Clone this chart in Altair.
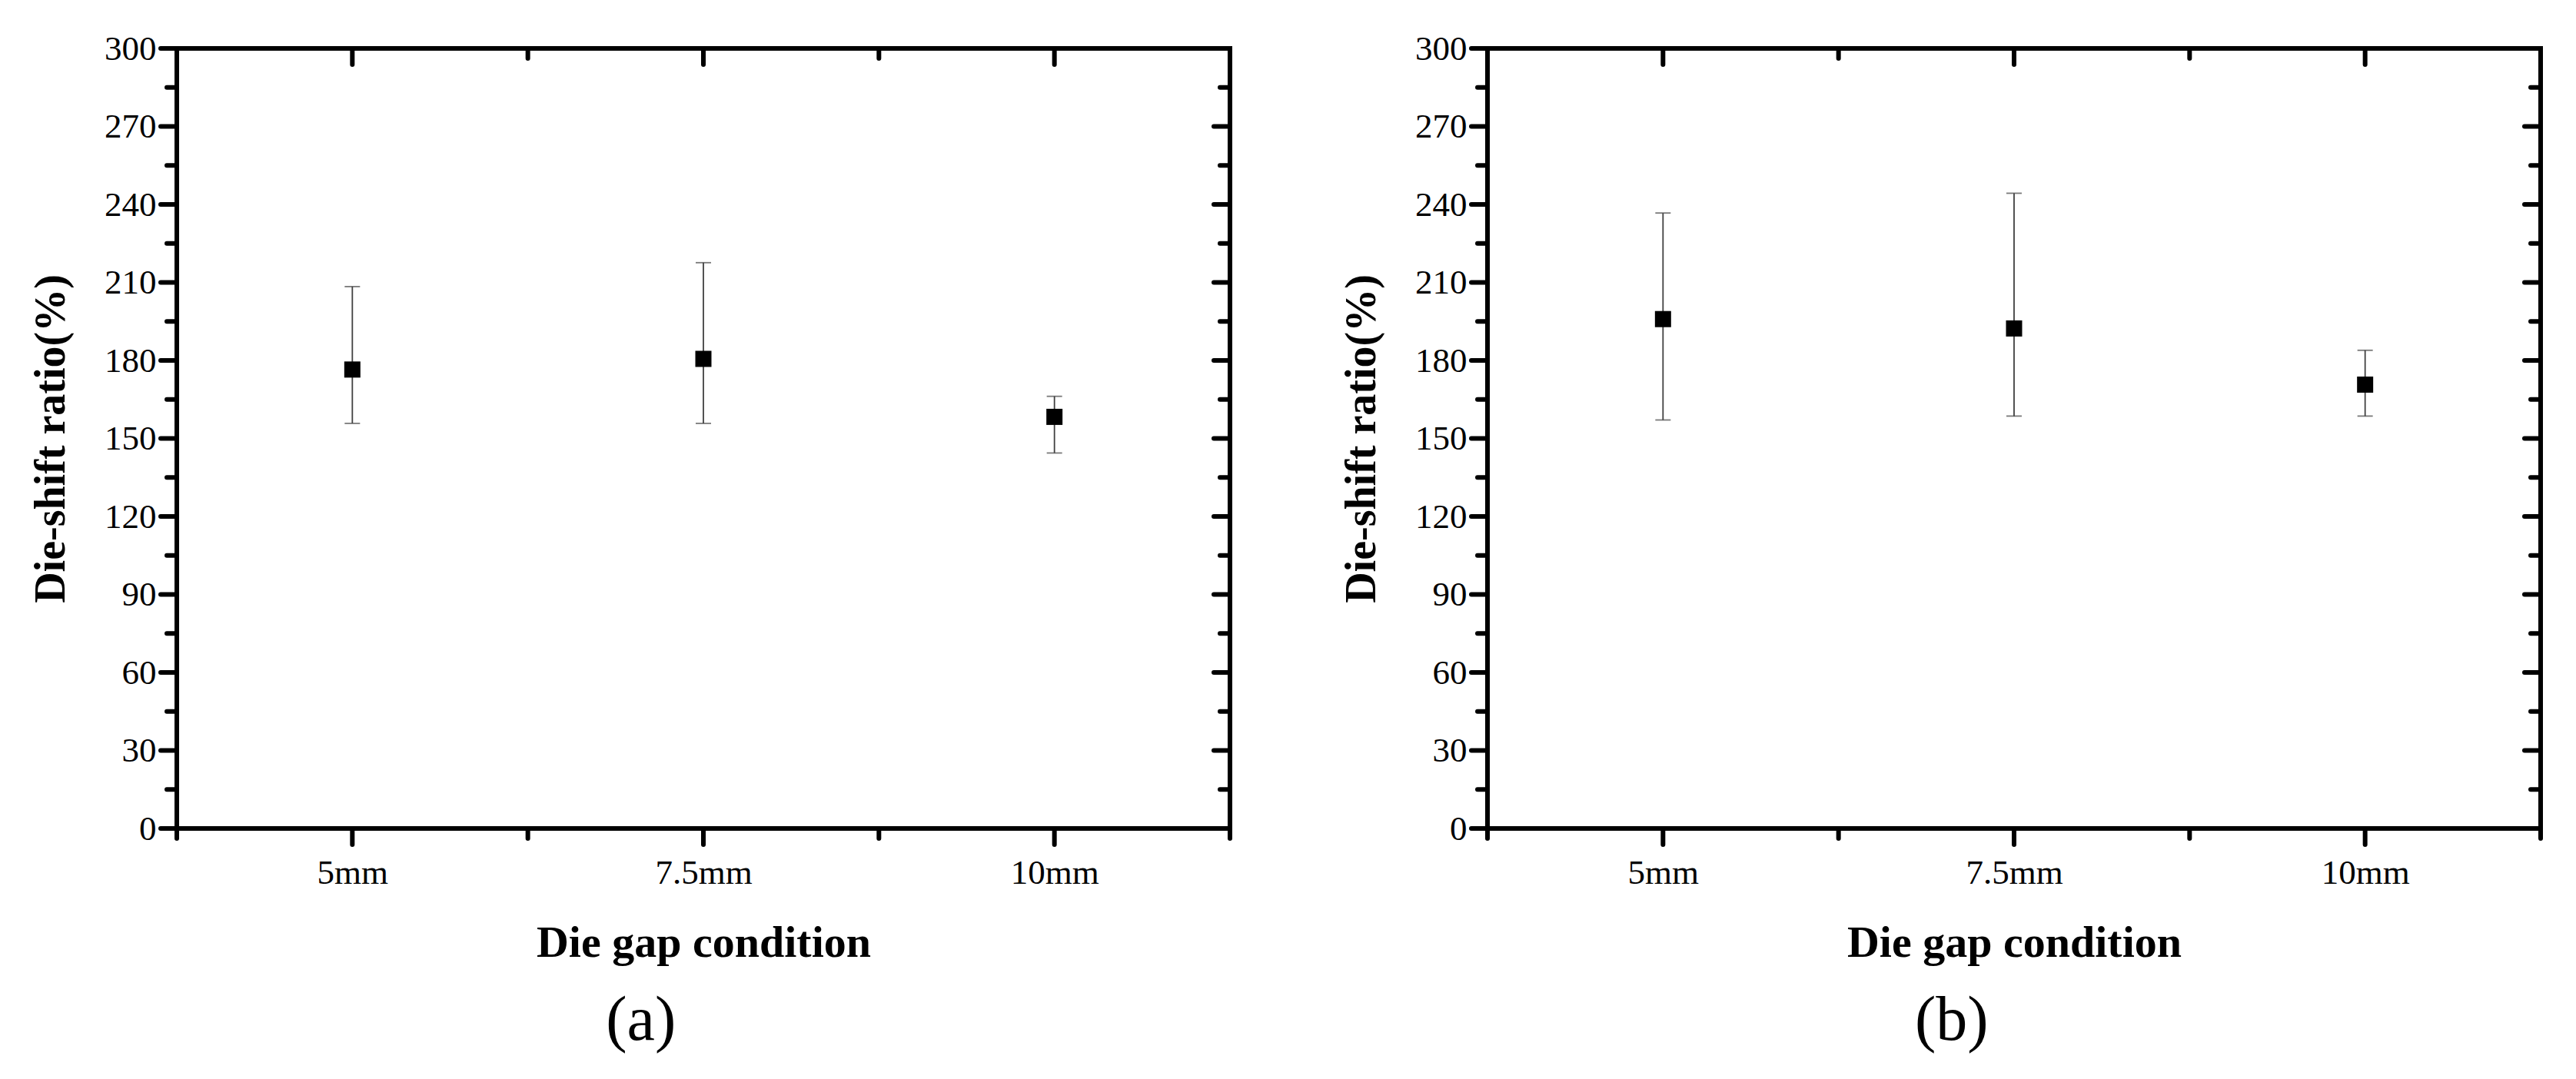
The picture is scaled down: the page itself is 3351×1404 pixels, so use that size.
import altair as alt
import pandas as pd

# ---- data ----
categories = ["5mm", "7.5mm", "10mm"]
positions = [1, 2, 3]

mean_a = [176.5, 180.6, 158.3]
low_a = [155.8, 155.8, 144.4]
high_a = [208.4, 217.6, 166.2]

mean_b = [195.9, 192.3, 170.7]
low_b = [157.1, 158.6, 158.6]
high_b = [236.7, 244.3, 183.9]

y_major = [0, 30, 60, 90, 120, 150, 180, 210, 240, 270, 300]
y_minor = [15, 45, 75, 105, 135, 165, 195, 225, 255, 285]
x_major = [1, 2, 3]
x_minor = [0.5, 1.5, 2.5, 3.5]

# ---- styling ----
W, H = 1370, 1015
FONT = "Liberation Serif"
AXW = 6
MAJ, MIN = 21, 13
BAR_COLOR = "#404040"

xscale = alt.Scale(domain=[0.5, 3.5], nice=False, zero=False)
yscale = alt.Scale(domain=[0, 300], nice=False, zero=True)

label_expr = "[" + ",".join("'" + c + "'" for c in categories) + "][datum.value - 1]"

xaxis = alt.Axis(
    values=x_major, labelExpr=label_expr, title="Die gap condition",
    ticks=False, tickSize=0, domain=False, grid=False,
    labelFont=FONT, labelFontSize=45, labelColor="black", labelPadding=35,
    titleFont=FONT, titleFontSize=58, titleFontWeight="bold", titleColor="black",
    titlePadding=40,
)
yaxis = alt.Axis(
    values=y_major, title="Die-shift ratio(%)",
    ticks=False, tickSize=0, domain=False, grid=False,
    labelFont=FONT, labelFontSize=45, labelColor="black", labelPadding=27,
    titleFont=FONT, titleFontSize=56, titleFontWeight="bold", titleColor="black",
    titlePadding=40,
)


def xq(field):
    return alt.X(field, type="quantitative", scale=xscale, axis=xaxis)


def yq(field):
    return alt.Y(field, type="quantitative", scale=yscale, axis=yaxis)


def tick_rules(values, kind, length):
    df = pd.DataFrame({"v": values})
    m = alt.Chart(df).mark_rule(color="black", strokeWidth=AXW, strokeCap="round")
    if kind == "left":
        return m.encode(y=yq("v"), x=alt.value(-length), x2=alt.value(0))
    if kind == "right":
        return m.encode(y=yq("v"), x=alt.value(W - length), x2=alt.value(W))
    if kind == "bottom":
        return m.encode(x=xq("v"), y=alt.value(H), y2=alt.value(H + length))
    return m.encode(x=xq("v"), y=alt.value(0), y2=alt.value(length))


def panel(mean, low, high, caption):
    df = pd.DataFrame({"pos": positions, "cat": categories,
                       "mean": mean, "low": low, "high": high})
    base = alt.Chart(df)
    bars = base.mark_rule(color=BAR_COLOR, strokeWidth=1.8).encode(
        x=xq("pos"), y=yq("low"), y2="high:Q")
    cap_lo = base.mark_tick(color=BAR_COLOR, orient="horizontal", size=20, thickness=1.8).encode(
        x=xq("pos"), y=yq("low"))
    cap_hi = base.mark_tick(color=BAR_COLOR, orient="horizontal", size=20, thickness=1.8).encode(
        x=xq("pos"), y=yq("high"))
    pts = base.mark_square(size=441, color="black", opacity=1, filled=True).encode(
        x=xq("pos"), y=yq("mean"))
    ticks = [
        tick_rules(y_major, "left", MAJ), tick_rules(y_minor, "left", MIN),
        tick_rules(y_major, "right", MAJ), tick_rules(y_minor, "right", MIN),
        tick_rules(x_major, "bottom", MAJ), tick_rules(x_minor, "bottom", MIN),
        tick_rules(x_major, "top", MAJ), tick_rules(x_minor, "top", MIN),
    ]
    return alt.layer(bars, cap_lo, cap_hi, pts, *ticks).properties(
        width=W, height=H,
        title=alt.TitleParams(caption, orient="bottom", anchor="middle", frame="bounds",
                              font=FONT, fontSize=82, fontWeight="normal",
                              color="black", offset=32, dx=13),
    )


chart = alt.hconcat(
    panel(mean_a, low_a, high_a, "(a)"),
    panel(mean_b, low_b, high_b, "(b)"),
    spacing=134,
).properties(
    padding={"left": 27, "top": 30, "right": 5, "bottom": 5},
    background="white",
).configure_view(stroke="black", strokeWidth=AXW)

chart.save("out.html", embed_options={"renderer": "svg", "actions": False})
